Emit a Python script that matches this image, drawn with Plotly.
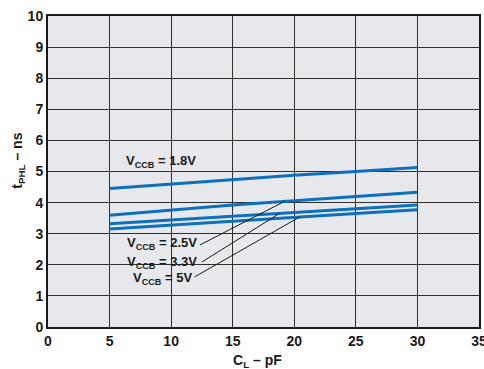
import numpy as np
import plotly.graph_objects as go

# Load capacitance (pF) and propagation delay tPHL (ns) for each VCCB supply
cl_pf = [5, 10, 15, 20, 25, 30]
tphl_1v8 = [4.45, 4.60, 4.75, 4.88, 5.00, 5.13]
tphl_2v5 = [3.59, 3.76, 3.92, 4.06, 4.20, 4.33]
tphl_3v3 = [3.32, 3.44, 3.56, 3.68, 3.80, 3.92]
tphl_5v0 = [3.15, 3.28, 3.41, 3.53, 3.65, 3.77]

series_names = ["V<sub>CCB</sub> = 1.8V", "V<sub>CCB</sub> = 2.5V",
                "V<sub>CCB</sub> = 3.3V", "V<sub>CCB</sub> = 5V"]

x_ticks = [0, 5, 10, 15, 20, 25, 30, 35]
y_ticks = list(range(0, 11))

LINE_COLOR = "#0d70bc"
GRID_COLOR = "#2e2e2e"
TEXT_COLOR = "#1a1a1a"
FONT = "Liberation Sans, Arial, sans-serif"

fig = go.Figure()
for name, ys in zip(series_names, [tphl_1v8, tphl_2v5, tphl_3v3, tphl_5v0]):
    fig.add_trace(go.Scatter(x=cl_pf, y=ys, mode="lines", name=name,
                             line=dict(color=LINE_COLOR, width=3),
                             showlegend=False, hoverinfo="skip"))

# Label for the 1.8V curve sits above it
fig.add_annotation(x=9.2, y=5.33, text="<b>" + series_names[0] + "</b>",
                   showarrow=False, xanchor="center", yanchor="middle",
                   font=dict(family=FONT, size=13, color=TEXT_COLOR))

# Labels below the group, each with a leader line to its curve
label_pos = [(9.25, 2.7), (9.25, 2.08), (9.3, 1.57)]
leader_start = [(12.35, 2.64), (12.5, 2.09), (11.9, 1.61)]
leader_end_x = [19.2, 18.8, 20.45]
for name, ys, (lx, ly), (sx, sy), ex in zip(series_names[1:],
                                           [tphl_2v5, tphl_3v3, tphl_5v0],
                                           label_pos, leader_start, leader_end_x):
    fig.add_annotation(x=lx, y=ly, text="<b>" + name + "</b>", showarrow=False,
                       xanchor="center", yanchor="middle",
                       font=dict(family=FONT, size=13, color=TEXT_COLOR))
    ey = float(np.interp(ex, cl_pf, ys))
    fig.add_shape(type="line", x0=sx, y0=sy, x1=ex, y1=ey, xref="x", yref="y",
                  line=dict(color=TEXT_COLOR, width=1))

# Axis titles
fig.add_annotation(xref="paper", yref="paper", x=0.487, y=-0.109,
                   text="<b>C<sub>L</sub> – pF</b>", showarrow=False,
                   xanchor="center", yanchor="middle",
                   font=dict(family=FONT, size=14, color=TEXT_COLOR))
fig.add_annotation(xref="paper", yref="paper", x=-0.07, y=0.534,
                   text="<b>t<sub>PHL</sub> – ns</b>", showarrow=False,
                   textangle=-90, xanchor="center", yanchor="middle",
                   font=dict(family=FONT, size=14, color=TEXT_COLOR))

axis_common = dict(showgrid=True, gridcolor=GRID_COLOR, gridwidth=1,
                   showline=True, linecolor=TEXT_COLOR, linewidth=2, mirror=True,
                   zeroline=False, ticks="", ticklabeloverflow="allow",
                   automargin=False,
                   tickfont=dict(family=FONT, size=14, color=TEXT_COLOR))

fig.update_xaxes(range=[0, 35], tickvals=x_ticks,
                 ticktext=["<b>%d</b>" % v for v in x_ticks], **axis_common)
fig.update_yaxes(range=[0, 10], tickvals=y_ticks,
                 ticktext=["<b>%d</b>" % v for v in y_ticks], **axis_common)

fig.update_layout(width=484, height=369,
                  margin=dict(l=48, r=5, t=16, b=42),
                  plot_bgcolor="#e7e8ec", paper_bgcolor="white")

fig.write_html("out.html")
